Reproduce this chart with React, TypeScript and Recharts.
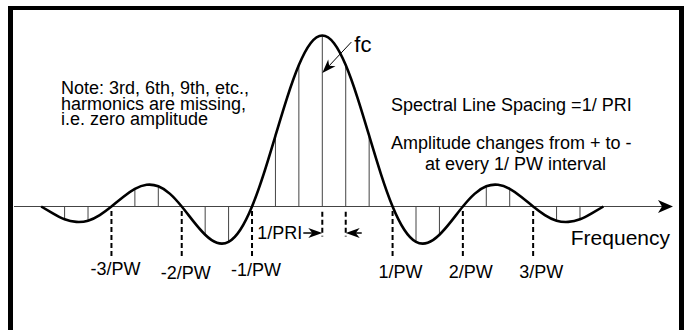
import React from 'react';
import { ComposedChart, Line, XAxis, YAxis, ReferenceLine, ReferenceDot } from 'recharts';

// Harmonic index n (spacing = 1/PRI); PW zero crossings at n = ±3, ±6, ±9
const curveN = [-12, -11.5, -11, -10.5, -10, -9.5, -9, -8.5, -8, -7.5, -7, -6.5, -6, -5.5, -5, -4.5, -4, -3.5, -3, -2.5, -2, -1.5, -1, -0.5, 0,
  0.5, 1, 1.5, 2, 2.5, 3, 3.5, 4, 4.5, 5, 5.5, 6, 6.5, 7, 7.5, 8, 8.5, 9, 9.5, 10, 10.5, 11, 11.5, 12];
const curveAmp = [0, -0.04, -0.075, -0.09, -0.083, -0.05, 0, 0.056, 0.103, 0.127, 0.118, 0.074, 0, -0.087, -0.165, -0.212, -0.207, -0.136, 0, 0.191, 0.414, 0.637, 0.827, 0.955, 1,
  0.955, 0.827, 0.637, 0.414, 0.191, 0, -0.136, -0.207, -0.212, -0.165, -0.087, 0, 0.074, 0.118, 0.127, 0.103, 0.056, 0, -0.05, -0.083, -0.09, -0.075, -0.04, 0];

const lineN = [-11, -10, -8, -7, -5, -4, -2, -1, 0, 1, 2, 4, 5, 7, 8, 10, 11];
const lineAmp = [-0.075, -0.083, 0.103, 0.118, -0.165, -0.207, 0.414, 0.827, 1, 0.827, 0.414, -0.207, -0.165, 0.118, 0.103, -0.083, -0.075];

const pwN = [-9, -6, -3, 3, 6, 9];
const pwLabels = ['-3/PW', '-2/PW', '-1/PW', '1/PW', '2/PW', '3/PW'];

const priN = [0, 1];
const priLabel = '1/PRI';
const fcLabel = 'fc';
const fcAmp = 0.78;

const noteLines = ['Note: 3rd, 6th, 9th, etc.,', 'harmonics are missing,', 'i.e. zero amplitude'];
const spacingText = 'Spectral Line Spacing =1/ PRI';
const ampLines = ['Amplitude changes from + to -', 'at every 1/ PW interval'];
const axisTitle = 'Frequency';

const data = curveN.map((n, i) => ({ n, amp: curveAmp[i] }));

const FONT = '"Liberation Sans", Arial, Helvetica, sans-serif';

const pwBaseline: Record<string, number> = { '-3/PW': 68.5, '-2/PW': 72.5, '-1/PW': 69.5, '1/PW': 71.5, '2/PW': 71.5, '3/PW': 71.5 };

const AxisShape = (props: any) => {
  const { x1, y1, x2, y2 } = props;
  const tip = x2;
  const y = y1;
  return (
    <g>
      <line x1={x1} y1={y1} x2={x2 - 8} y2={y2} stroke="#444" strokeWidth={1} />
      <polygon points={`${tip},${y} ${tip - 15},${y - 6.5} ${tip - 11},${y} ${tip - 15},${y + 6.5}`} fill="#000" />
    </g>
  );
};

export default function App() {
  return (
    <div style={{ position: 'absolute', left: 0, top: 0, width: 684, height: 330, background: '#fff', fontFamily: FONT }}>
      <ComposedChart width={684} height={330} data={data} margin={{ top: 0, right: 11, bottom: 0, left: 14 }}>
        <XAxis dataKey="n" type="number" domain={[-13.16, 14.97]} allowDataOverflow hide height={0} />
        <YAxis type="number" domain={[-0.7222, 1.2076]} allowDataOverflow hide width={0} />
        <ReferenceLine y={0} ifOverflow="visible" shape={AxisShape} />
        {lineN.map((n, i) => (
          <ReferenceLine key={'l' + n} ifOverflow="visible" segment={[{ x: n, y: 0 }, { x: n, y: lineAmp[i] }]} stroke="#444" strokeWidth={1} />
        ))}
        {pwN.map((n) => (
          <ReferenceLine key={'pw' + n} ifOverflow="visible" segment={[{ x: n, y: -0.026 }, { x: n, y: -0.3 }]} stroke="#000" strokeWidth={2} strokeDasharray="5 3" />
        ))}
        {priN.map((n) => (
          <ReferenceLine key={'pri' + n} ifOverflow="visible" segment={[{ x: n, y: -0.03 }, { x: n, y: -0.176 }]} stroke="#000" strokeWidth={2} strokeDasharray="5 3" />
        ))}
        <Line dataKey="amp" type="natural" stroke="#000" strokeWidth={2.6} dot={false} isAnimationActive={false} />
        {pwN.map((n, i) => (
          <ReferenceDot key={'pwl' + n} x={n} y={0} ifOverflow="visible" r={0}
            shape={(p: any) => (
              <text x={p.cx + (pwLabels[i].startsWith('-') ? 4 : 8)} y={p.cy + pwBaseline[pwLabels[i]]} textAnchor="middle" fontSize={18} fontFamily={FONT} fill="#000">{pwLabels[i]}</text>
            )} />
        ))}
        <ReferenceDot x={priN[0]} y={-0.155} ifOverflow="visible" r={0}
          shape={(p: any) => (
            <g>
              <text x={p.cx - 20} y={p.cy + 6} textAnchor="end" fontSize={18} fontFamily={FONT} fill="#000">{priLabel}</text>
              <line x1={p.cx - 19} y1={p.cy} x2={p.cx - 9} y2={p.cy} stroke="#000" strokeWidth={1.5} />
              <polygon points={`${p.cx},${p.cy} ${p.cx - 14},${p.cy - 5} ${p.cx - 10},${p.cy} ${p.cx - 14},${p.cy + 5}`} fill="#000" />
            </g>
          )} />
        <ReferenceDot x={priN[1]} y={-0.155} ifOverflow="visible" r={0}
          shape={(p: any) => (
            <g>
              <line x1={p.cx + 9} y1={p.cy} x2={p.cx + 16} y2={p.cy} stroke="#000" strokeWidth={1.5} />
              <polygon points={`${p.cx},${p.cy} ${p.cx + 14},${p.cy - 5} ${p.cx + 10},${p.cy} ${p.cx + 14},${p.cy + 5}`} fill="#000" />
            </g>
          )} />
        <ReferenceDot x={0} y={fcAmp} ifOverflow="visible" r={0}
          shape={(p: any) => {
            const ux = 29 / Math.hypot(29, 31), uy = -31 / Math.hypot(29, 31);
            const px = -uy, py = ux;
            const tx = p.cx, ty = p.cy;
            const bx = tx + ux * 14, by = ty + uy * 14;
            const nx = tx + ux * 10, ny = ty + uy * 10;
            return (
              <g>
                <line x1={tx + ux * 10} y1={ty + uy * 10} x2={tx + 29} y2={ty - 31} stroke="#000" strokeWidth={1} />
                <polygon points={`${tx},${ty} ${bx + px * 5},${by + py * 5} ${nx},${ny} ${bx - px * 5},${by - py * 5}`} fill="#000" />
                <text x={tx + 32} y={ty - 21} fontSize={22} fontFamily={FONT} fill="#000">{fcLabel}</text>
              </g>
            );
          }} />
      </ComposedChart>
      <svg width={684} height={330} style={{ position: 'absolute', left: 0, top: 0, pointerEvents: 'none' }}>
        <rect x={8} y={6} width={676} height={4} fill="#000" />
        <rect x={8} y={6} width={5} height={324} fill="#000" />
        <rect x={679} y={6} width={5} height={324} fill="#000" />
        <text fontSize={18} fontFamily={FONT} fill="#000">
          {noteLines.map((t, i) => (
            <tspan key={i} x={61} y={94 + i * 15.5}>{t}</tspan>
          ))}
        </text>
        <text x={391} y={111} fontSize={18} fontFamily={FONT} fill="#000">{spacingText}</text>
        <text x={391} y={149} fontSize={18} fontFamily={FONT} fill="#000">{ampLines[0]}</text>
        <text x={425} y={170} fontSize={18} fontFamily={FONT} fill="#000">{ampLines[1]}</text>
        <text x={670} y={245} textAnchor="end" fontSize={21} fontFamily={FONT} fill="#000">{axisTitle}</text>
      </svg>
    </div>
  );
}
